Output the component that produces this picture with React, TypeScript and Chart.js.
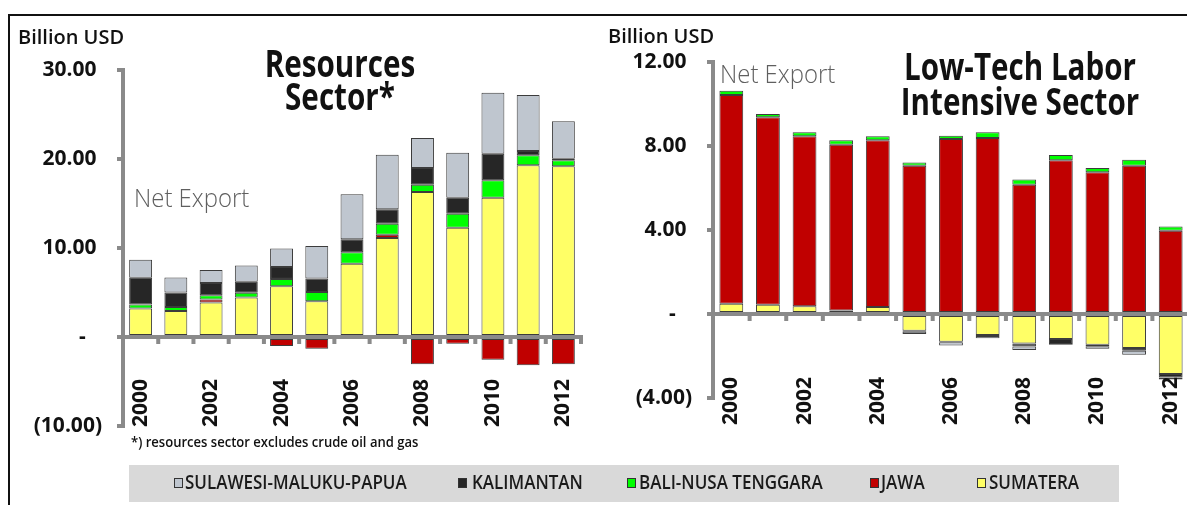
import React, { useEffect, useRef } from 'react';
import { Chart, registerables } from 'chart.js';

Chart.register(...registerables);

// ---------- data ----------
const years = ['2000', '2001', '2002', '2003', '2004', '2005', '2006', '2007', '2008', '2009', '2010', '2011', '2012'];
const shownYearLabels = ['2000', '2002', '2004', '2006', '2008', '2010', '2012'];

const regionNames = ['SUMATERA', 'JAWA', 'BALI-NUSA TENGGARA', 'KALIMANTAN', 'SULAWESI-MALUKU-PAPUA'];
const regionColors = ['#ffff66', '#c00000', '#00ff00', '#262626', '#bfc6cf'];

// Resources sector (billion USD); null = no visible segment
const resSumatera = [3.2, 2.93, 3.87, 4.44, 5.69, 4.01, 8.24, 11.12, 16.29, 12.28, 15.66, 19.29, 19.18];
const resJawa = [null, null, 0.34, null, -1.01, -1.31, null, 0.38, -3.07, -0.75, -2.55, -3.18, -3.07];
const resBali = [0.45, 0.45, 0.49, 0.52, 0.83, 1.05, 1.27, 1.23, 0.83, 1.58, 1.94, 1.12, 0.67];
const resKalimantan = [3.0, 1.62, 1.38, 1.24, 1.35, 1.5, 1.46, 1.61, 1.87, 1.8, 3.0, 0.49, 0.19];
const resSulawesi = [2.03, 1.69, 1.44, 1.84, 2.06, 3.67, 5.06, 6.15, 3.37, 5.05, 6.85, 6.29, 4.19];

// Low-tech labor intensive sector (billion USD); null = no visible segment
const lowSumatera = [0.49, 0.44, 0.37, 0.17, 0.33, -0.8, -1.32, -1.0, -1.4, -1.19, -1.46, -1.62, -2.86];
const lowJawa = [9.94, 8.93, 8.09, 7.89, 7.94, 7.06, 8.33, 8.38, 6.16, 7.32, 6.75, 7.06, 3.97];
const lowBali = [0.2, 0.15, 0.19, 0.21, 0.19, 0.16, 0.16, 0.27, 0.24, 0.25, 0.2, 0.29, 0.2];
const lowKalimantan = [null, null, null, null, null, -0.05, -0.03, -0.05, -0.15, -0.24, -0.08, -0.13, -0.16];
const lowSulawesi = [null, null, null, null, null, -0.1, -0.15, -0.1, -0.16, -0.03, -0.12, -0.19, -0.1];

const resYTickValues = [-10, 0, 10, 20, 30];
const resYTickLabels = ['(10.00)', '-', '10.00', '20.00', '30.00'];
const lowYTickValues = [-4, 0, 4, 8, 12];
const lowYTickLabels = ['(4.00)', '-', '4.00', '8.00', '12.00'];

// ---------- style ----------
const FONT = "'Open Sans', 'Noto Sans', 'DejaVu Sans', sans-serif";
const AXIS = '#8a8a8a';
const BAR_BORDER = '#3c3c3c';

const customAxis = {
  id: 'customAxis',
  afterDatasetsDraw(chart: any, _args: any, opts: any) {
    const { ctx, chartArea } = chart;
    const xs = chart.scales.x;
    const ys = chart.scales.y;
    const y0 = ys.getPixelForValue(0);
    const n = chart.data.labels.length;
    ctx.save();
    ctx.strokeStyle = AXIS;
    ctx.fillStyle = AXIS;
    ctx.lineWidth = 4;
    ctx.beginPath();
    ctx.moveTo(chartArea.left, y0);
    ctx.lineTo(chartArea.right + 2, y0);
    ctx.stroke();
    for (let i = 0; i < n; i++) {
      const px = i < n - 1
        ? (xs.getPixelForValue(i) + xs.getPixelForValue(i + 1)) / 2
        : chartArea.right;
      ctx.fillRect(px - 2, y0 + 2, 4, 5);
    }
    ctx.fillStyle = '#111';
    ctx.font = `bold 21px ${FONT}`;
    ctx.textBaseline = 'middle';
    ctx.textAlign = 'left';
    chart.data.labels.forEach((lbl: string, i: number) => {
      if (!shownYearLabels.includes(lbl)) return;
      const px = xs.getPixelForValue(i);
      ctx.save();
      ctx.translate(px, opts.labelBottom);
      ctx.rotate(-Math.PI / 2);
      ctx.fillText(lbl, 0, 0);
      ctx.restore();
    });
    ctx.restore();
  },
};

function makeDatasets(series: (number | null)[][]) {
  return series.map((data, i) => ({
    label: regionNames[i],
    data,
    backgroundColor: regionColors[i],
    borderColor: BAR_BORDER,
    borderWidth: 1,
    borderSkipped: false as const,
    categoryPercentage: 1,
    barPercentage: 0.65,
  }));
}

type ChartProps = {
  left: number;
  width: number;
  height: number;
  series: (number | null)[][];
  yMin: number;
  yMax: number;
  step: number;
  tickValues: number[];
  tickLabels: string[];
  padding: { left: number; right: number; top: number; bottom: number };
  yWidth: number;
  labelBottom: number;
};

function StackChart(p: ChartProps) {
  const ref = useRef<HTMLCanvasElement>(null);
  useEffect(() => {
    if (!ref.current) return;
    const chart = new Chart(ref.current, {
      type: 'bar',
      data: { labels: years, datasets: makeDatasets(p.series) as any },
      options: {
        responsive: false,
        animation: false,
        devicePixelRatio: 1,
        layout: { padding: p.padding },
        plugins: {
          legend: { display: false },
          tooltip: { enabled: false },
          title: { display: false },
          customAxis: { labelBottom: p.labelBottom },
        } as any,
        scales: {
          x: { display: false, stacked: true, grid: { display: false } },
          y: {
            stacked: true,
            min: p.yMin,
            max: p.yMax,
            ticks: {
              stepSize: p.step,
              padding: 15,
              color: '#111',
              font: { family: FONT, size: 21, weight: 'bold' },
              callback: (value: any) => {
                const idx = p.tickValues.indexOf(Number(value));
                if (idx < 0) return '';
                const lbl = p.tickLabels[idx];
                if (lbl.startsWith('(')) return lbl;
                if (lbl === '-') return lbl + '   ';
                return lbl + ' ';
              },
            },
            grid: { drawOnChartArea: false, drawTicks: true, tickLength: 6, color: AXIS, lineWidth: 4 },
            border: { display: true, color: AXIS, width: 4 },
            afterFit: (s: any) => {
              s.width = p.yWidth;
            },
          },
        },
      },
      plugins: [customAxis],
    });
    return () => chart.destroy();
  }, []);
  return (
    <canvas
      ref={ref}
      width={p.width}
      height={p.height}
      style={{ position: 'absolute', left: p.left, top: 0, width: p.width, height: p.height }}
    />
  );
}

const txt: React.CSSProperties = {
  position: 'absolute',
  fontFamily: FONT,
  whiteSpace: 'nowrap',
  color: '#111',
  margin: 0,
};

const legendItems = [
  { name: regionNames[4], color: regionColors[4], sq: 174, tx: 185 },
  { name: regionNames[3], color: regionColors[3], sq: 458, tx: 472 },
  { name: regionNames[2], color: regionColors[2], sq: 627, tx: 639 },
  { name: regionNames[1], color: regionColors[1], sq: 870, tx: 881 },
  { name: regionNames[0], color: regionColors[0], sq: 977, tx: 989 },
];

export default function App() {
  return (
    <div
      style={{
        position: 'absolute',
        left: 0,
        top: 0,
        width: 1187,
        height: 505,
        overflow: 'hidden',
        background: '#fff',
      }}
    >
      {/* frame */}
      <div style={{ position: 'absolute', left: 8, top: 14, width: 1179, height: 2, background: '#111' }} />
      <div style={{ position: 'absolute', left: 8, top: 14, width: 2, height: 491, background: '#111' }} />

      <StackChart
        left={0}
        width={600}
        height={460}
        series={[resSumatera, resJawa, resBali, resKalimantan, resSulawesi]}
        yMin={-10}
        yMax={30}
        step={10}
        tickValues={resYTickValues}
        tickLabels={resYTickLabels}
        padding={{ left: 0, right: 19, top: 70, bottom: 34 }}
        yWidth={123}
        labelBottom={427}
      />
      <StackChart
        left={600}
        width={600}
        height={460}
        series={[lowSumatera, lowJawa, lowBali, lowKalimantan, lowSulawesi]}
        yMin={-4}
        yMax={12}
        step={4}
        tickValues={lowYTickValues}
        tickLabels={lowYTickLabels}
        padding={{ left: 0, right: 11, top: 62, bottom: 62 }}
        yWidth={113}
        labelBottom={425}
      />

      {/* axis captions */}
      <div style={{ ...txt, left: 18, top: 27, fontSize: 20, fontWeight: 600, lineHeight: '20px' }}>Billion USD</div>
      <div style={{ ...txt, left: 608, top: 26, fontSize: 20, fontWeight: 600, lineHeight: '20px' }}>Billion USD</div>

      {/* titles */}
      <div
        style={{
          ...txt,
          left: 190,
          top: 46,
          width: 300,
          textAlign: 'center',
          fontSize: 38,
          fontWeight: 700,
          lineHeight: '33px',
          transform: 'scaleX(0.78)',
          transformOrigin: 'center',
        }}
      >
        Resources
        <br />
        Sector*
      </div>
      <div
        style={{
          ...txt,
          left: 860,
          top: 48,
          width: 320,
          textAlign: 'center',
          fontSize: 37,
          fontWeight: 700,
          lineHeight: '35px',
          transform: 'scaleX(0.8)',
          transformOrigin: 'center',
        }}
      >
        Low-Tech Labor
        <br />
        Intensive Sector
      </div>

      {/* net export */}
      <div
        style={{
          ...txt,
          left: 134,
          top: 184,
          fontSize: 26,
          fontWeight: 300,
          lineHeight: '26px',
          color: '#5f5f5f',
          transform: 'scaleX(0.92)',
          transformOrigin: 'left',
        }}
      >
        Net Export
      </div>
      <div
        style={{
          ...txt,
          left: 720,
          top: 60,
          fontSize: 26,
          fontWeight: 300,
          lineHeight: '26px',
          color: '#5f5f5f',
          transform: 'scaleX(0.92)',
          transformOrigin: 'left',
        }}
      >
        Net Export
      </div>

      {/* footnote */}
      <div
        style={{
          ...txt,
          left: 131,
          top: 434,
          fontSize: 15,
          fontWeight: 600,
          lineHeight: '15px',
          transform: 'scaleX(0.87)',
          transformOrigin: 'left',
        }}
      >
        *) resources sector excludes crude oil and gas
      </div>

      {/* legend */}
      <div style={{ position: 'absolute', left: 129, top: 465, width: 990, height: 37, background: '#d9d9d9' }} />
      {legendItems.map((it) => (
        <React.Fragment key={it.name}>
          <div
            style={{
              position: 'absolute',
              left: it.sq,
              top: 478,
              width: 9,
              height: 10,
              boxSizing: 'border-box',
              border: '1px solid #333',
              background: it.color,
            }}
          />
          <div
            style={{
              ...txt,
              left: it.tx,
              top: 472,
              fontSize: 20,
              fontWeight: 600,
              lineHeight: '20px',
              color: '#1a1a1a',
              transform: 'scaleX(0.85)',
              transformOrigin: 'left',
            }}
          >
            {it.name}
          </div>
        </React.Fragment>
      ))}
    </div>
  );
}
